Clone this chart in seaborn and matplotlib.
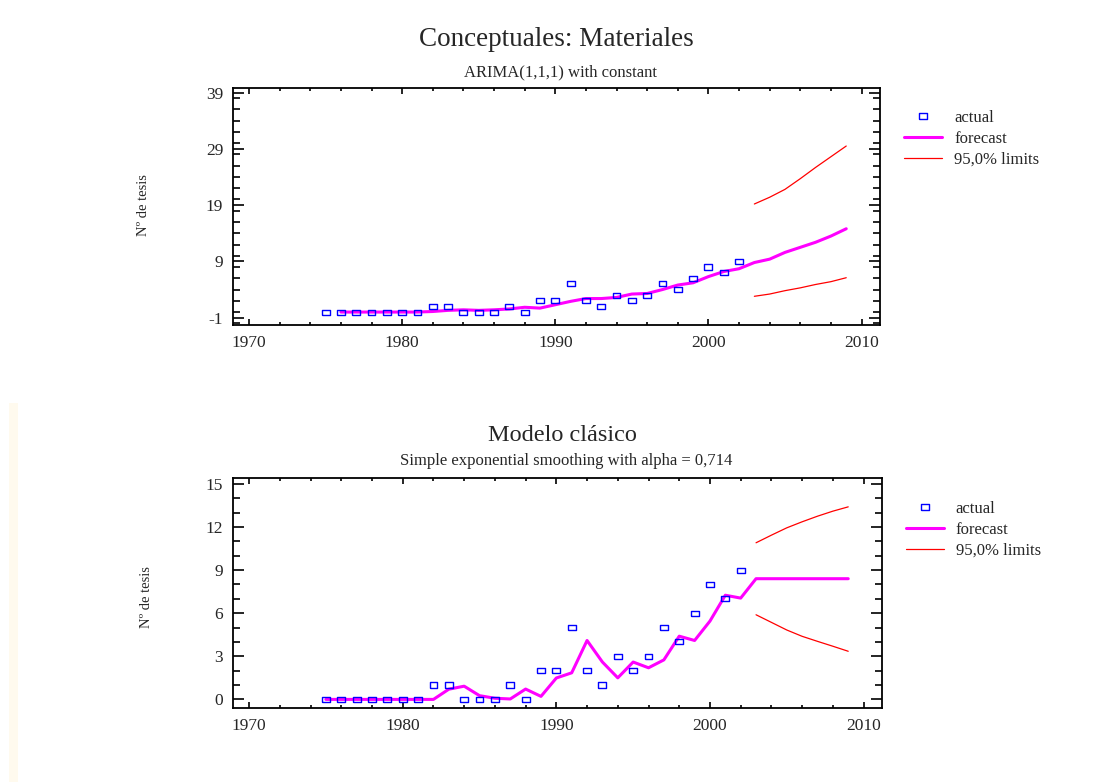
import numpy as np
import pandas as pd
import seaborn as sns
import matplotlib.pyplot as plt
from matplotlib.ticker import MultipleLocator
from matplotlib.patches import Rectangle

# Observed theses per year (same series in both panels)
years_actual = list(range(1975, 2003))
actual = [0, 0, 0, 0, 0, 0, 0, 1, 1, 0, 0, 0, 1, 0, 2, 2, 5, 2, 1, 3, 2, 3, 5, 4, 6, 8, 7, 9]

# ARIMA(1,1,1) forecast
years_arima = list(range(1976, 2010))
arima_fc = [0.0, 0.0, 0.0, 0.0, 0.0, 0.0, 0.1, 0.3, 0.4, 0.3, 0.4, 0.55, 0.85, 0.7,
            1.3, 1.9, 2.4, 2.4, 2.6, 3.2, 3.3, 4.0, 4.8, 5.2, 6.3, 7.2, 7.7,
            8.8, 9.4, 10.6, 11.5, 12.4, 13.5, 14.8]

# Simple exponential smoothing forecast
years_ses = list(range(1975, 2010))
ses_fc = [0, 0, 0, 0, 0, 0, 0, 0, 0.71, 0.92, 0.26, 0.08, 0.03, 0.72, 0.21,
          1.49, 1.85, 4.1, 2.6, 1.5, 2.6, 2.2, 2.75, 4.4, 4.1, 5.45, 7.25, 7.05,
          8.4, 8.4, 8.4, 8.4, 8.4, 8.4, 8.4]

# 95% limits
years_lim = list(range(2003, 2010))
arima_upper = [19.2, 20.4, 21.8, 23.7, 25.7, 27.6, 29.5]
arima_lower = [2.8, 3.2, 3.8, 4.3, 4.9, 5.4, 6.1]
ses_upper = [10.9, 11.43, 11.94, 12.36, 12.75, 13.1, 13.4]
ses_lower = [5.89, 5.36, 4.83, 4.39, 4.04, 3.7, 3.35]

sns.set_style("ticks")
plt.rcParams['font.family'] = ['Liberation Serif', 'DejaVu Serif']
plt.rcParams['axes.unicode_minus'] = False

fig = plt.figure(figsize=(11.01, 7.82), dpi=100)
fig.patches.append(Rectangle((0.008, 0.0), 0.008, 0.485, transform=fig.transFigure,
                             facecolor='#fffaee', edgecolor='none', zorder=-1))

rect_marker = [(-1, -0.65), (1, -0.65), (1, 0.65), (-1, 0.65), (-1, -0.65)]


def draw_panel(ax, fc_years, fc, upper, lower, ylim, yminor, yticks):
    df_a = pd.DataFrame({'year': years_actual, 'value': actual})
    df_f = pd.DataFrame({'year': fc_years, 'value': fc})
    df_u = pd.DataFrame({'year': years_lim, 'value': upper})
    df_l = pd.DataFrame({'year': years_lim, 'value': lower})
    sns.lineplot(data=df_u, x='year', y='value', ax=ax, color='red', linewidth=0.9)
    sns.lineplot(data=df_l, x='year', y='value', ax=ax, color='red', linewidth=0.9)
    sns.lineplot(data=df_f, x='year', y='value', ax=ax, color='#ff00ff', linewidth=2.2)
    sns.scatterplot(data=df_a, x='year', y='value', ax=ax, marker=rect_marker, s=32,
                    facecolor='none', edgecolor='blue', linewidth=1.0, zorder=5)
    ax.set_xlim(1968.95, 2011.2)
    ax.set_ylim(*ylim)
    ax.set_xticks([1970, 1980, 1990, 2000, 2010])
    ax.xaxis.set_minor_locator(MultipleLocator(2))
    ax.set_yticks(yticks)
    ax.yaxis.set_minor_locator(MultipleLocator(yminor))
    ax.tick_params(which='both', direction='in', top=True, right=True, labelsize=12.5,
                   width=1.2, color='black')
    ax.tick_params(axis='y', which='major', length=8, pad=7)
    ax.tick_params(axis='y', which='minor', length=5)
    ax.tick_params(axis='x', which='major', length=4.5, pad=7)
    ax.tick_params(axis='x', which='minor', length=2.5)
    for s in ax.spines.values():
        s.set_linewidth(1.3)
        s.set_color('black')
    ax.set_xlabel('')
    ax.set_ylabel('')
    handles = [
        plt.Line2D([], [], linestyle='none', marker=rect_marker, markersize=6,
                   markerfacecolor='none', markeredgecolor='blue', markeredgewidth=1.0),
        plt.Line2D([], [], color='#ff00ff', linewidth=2.2),
        plt.Line2D([], [], color='red', linewidth=0.9),
    ]
    return handles


labels = ['actual', 'forecast', '95,0% limits']
leg_kw = dict(loc='upper left', frameon=False, fontsize=12, borderpad=0,
              handlelength=2.3, handletextpad=0.7, labelspacing=0.3)

ax1 = fig.add_axes([0.2116, 0.5844, 0.5876, 0.303])
h = draw_panel(ax1, years_arima, arima_fc, arima_upper, arima_lower,
               (-2.3, 39.8), 2, [-1, 9, 19, 29, 39])
ax1.legend(h, labels, bbox_to_anchor=(0.8135, 0.870),
           bbox_transform=fig.transFigure, **leg_kw)

ax2 = fig.add_axes([0.2116, 0.0946, 0.5895, 0.294])
h = draw_panel(ax2, years_ses, ses_fc, ses_upper, ses_lower,
               (-0.6, 15.4), 1, [0, 3, 6, 9, 12, 15])
ax2.legend(h, labels, bbox_to_anchor=(0.815, 0.370),
           bbox_transform=fig.transFigure, **leg_kw)

fig.text(0.505, 0.949, 'Conceptuales: Materiales', ha='center', va='center', fontsize=19.5)
fig.text(0.509, 0.907, 'ARIMA(1,1,1) with constant', ha='center', va='center', fontsize=12)
fig.text(0.511, 0.4425, 'Modelo clásico', ha='center', va='center', fontsize=17.5)
fig.text(0.514, 0.410, 'Simple exponential smoothing with alpha = 0,714', ha='center',
         va='center', fontsize=12)
fig.text(0.130, 0.738, 'Nº de tesis', ha='center', va='center', rotation=90, fontsize=10.5)
fig.text(0.1335, 0.237, 'Nº de tesis', ha='center', va='center', rotation=90, fontsize=10.5)

fig.savefig('out.png', dpi=100)
